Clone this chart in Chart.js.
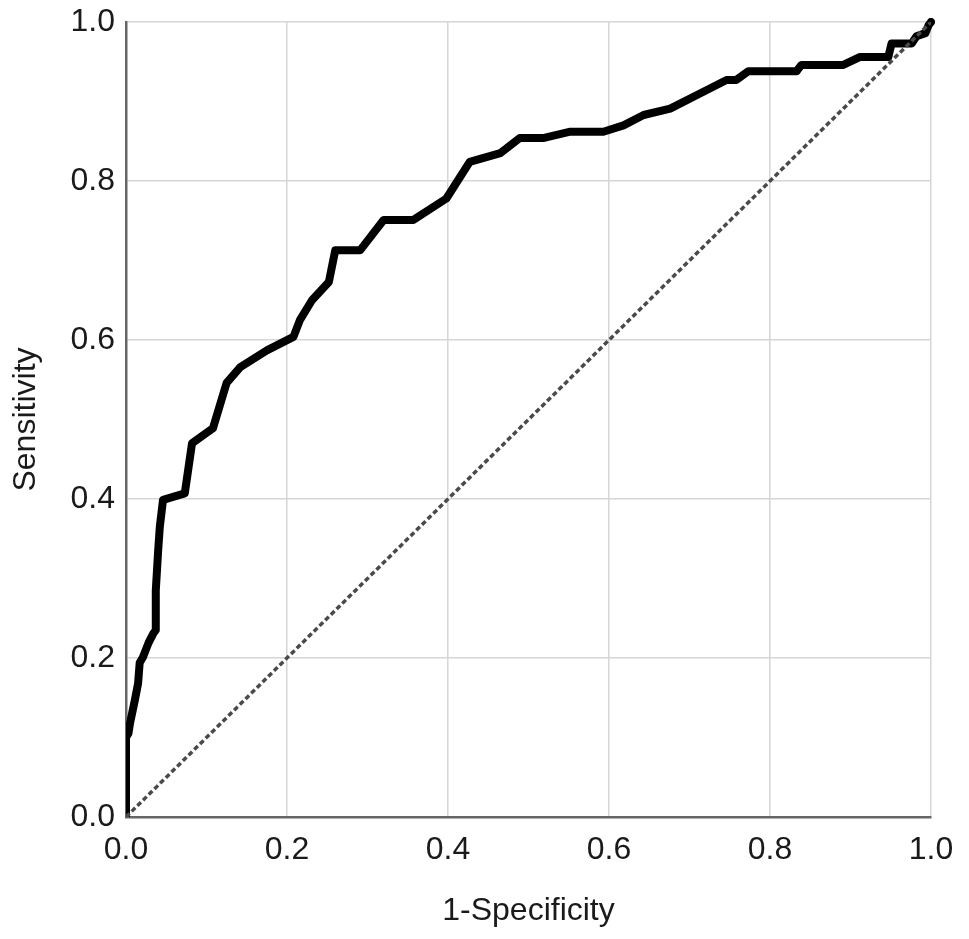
<!DOCTYPE html>
<html>
<head>
<meta charset="utf-8">
<script src="https://cdn.jsdelivr.net/npm/chart.js@4/dist/chart.umd.min.js"></script>
<style>
body { margin: 0; background: #fff; }
canvas { display: block; }
</style>
</head>
<body>
<canvas id="roc" width="969" height="939"></canvas>
<script>
// ROC curve
var fprX = [0, 0.0, 0.003, 0.005, 0.011, 0.015, 0.017, 0.021, 0.028, 0.034,
	    0.037, 0.037, 0.040, 0.042, 0.046, 0.073, 0.082, 0.108, 0.125, 0.142,
	    0.175, 0.208, 0.216, 0.231, 0.252, 0.260, 0.291, 0.320, 0.357, 0.398,
	    0.427, 0.465, 0.489, 0.518, 0.552, 0.593, 0.618, 0.643, 0.676, 0.713,
	    0.746, 0.758, 0.773, 0.833, 0.839, 0.891, 0.912, 0.947, 0.951, 0.976,
	    0.982, 0.993, 0.997, 1];
var tprY = [0, 0.100, 0.105, 0.118, 0.147, 0.168, 0.194, 0.201, 0.219, 0.231,
	    0.235, 0.285, 0.336, 0.365, 0.399, 0.407, 0.470, 0.489, 0.546, 0.566,
	    0.587, 0.604, 0.625, 0.650, 0.673, 0.713, 0.713, 0.751, 0.751, 0.778,
	    0.824, 0.835, 0.854, 0.854, 0.862, 0.862, 0.870, 0.883, 0.891, 0.910,
	    0.927, 0.927, 0.938, 0.938, 0.946, 0.946, 0.956, 0.956, 0.973, 0.973,
	    0.982, 0.986, 0.996, 1];

// reference line
var diagX = [0, 1];
var diagY = [0, 1];

var tickValues = [0, 0.2, 0.4, 0.6, 0.8, 1.0];
var xTitle = '1-Specificity';
var yTitle = 'Sensitivity';

function to_points(xs, ys)
{
    return xs.map(function(x, i) { return {x: x, y: ys[i]}; });
}

function axis(title, pad, fit)
{
    return {
	type: 'linear',
	min: 0,
	max: 1,
	afterBuildTicks: function(scale) {
	    scale.ticks = tickValues.map(function(v) { return {value: v}; });
	},
	afterFit: fit,
	ticks: {
	    padding: pad,
	    color: '#1a1a1a',
	    font: { family: 'Liberation Sans', size: 32 },
	    callback: function(v) { return v.toFixed(1); }
	},
	grid: {
	    color: '#d6d6d6',
	    lineWidth: 1.5,
	    drawTicks: false
	},
	border: { color: '#666', width: 2.5 },
	title: {
	    display: true,
	    text: title,
	    color: '#1a1a1a',
	    font: { family: 'Liberation Sans', size: 32 }
	}
    };
}

function draw_roc()
{
    const ctx = document.getElementById('roc');

    var xs = axis(xTitle, 14, function(s) {
	s.height = 939 - 817;
	s.paddingLeft = 0;
	s.paddingRight = 0;
    });
    xs.title.padding = { top: 0, bottom: 9 };
    var ys = axis(yTitle, 11, function(s) {
	s.width = 126;
	s.paddingTop = 0;
	s.paddingBottom = 0;
    });
    ys.title.padding = { top: 7, bottom: 0 };

    new Chart(ctx, {
	type: 'line',
	data: {
	    datasets: [{
		label: 'Reference',
		data: to_points(diagX, diagY),
		borderColor: '#4a4a4a',
		borderWidth: 3.5,
		borderDash: [5, 3],
		pointRadius: 0,
		order: 0
	    }, {
		label: 'ROC',
		data: to_points(fprX, tprY),
		borderColor: '#000',
		borderWidth: 8,
		borderJoinStyle: 'round',
		borderCapStyle: 'round',
		pointRadius: 0,
		tension: 0,
		clip: { left: 0, top: 4, right: 4, bottom: 0 },
		order: 1
	    }]
	},
	options: {
	    responsive: false,
	    animation: false,
	    layout: { padding: { top: 22, right: 38, left: 0, bottom: 0 } },
	    plugins: {
		legend: { display: false },
		tooltip: { enabled: false }
	    },
	    scales: { x: xs, y: ys }
	}
    });
}

draw_roc();
</script>
</body>
</html>
